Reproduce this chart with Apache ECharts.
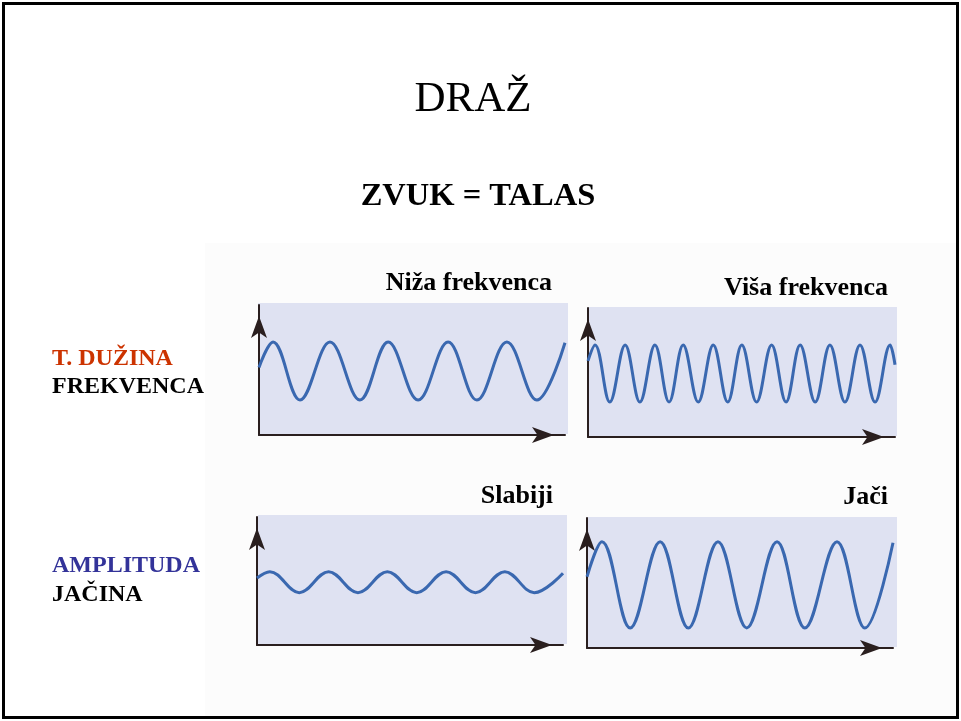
<!DOCTYPE html>
<html>
<head>
<meta charset="utf-8">
<script src="https://cdn.jsdelivr.net/npm/echarts@6/dist/echarts.min.js"></script>
<style>
html,body{margin:0;padding:0;background:#fff;}
#chart{width:961px;height:721px;}
</style>
</head>
<body>
<div id="chart"></div>
<script>
// ---- texts ----
var slideTitle = 'DRAŽ';
var slideSubtitle = 'ZVUK = TALAS';
var panelTitles = ['Niža frekvenca', 'Viša frekvenca', 'Slabiji', 'Jači'];
var rowLabels = [['T. DUŽINA', 'FREKVENCA'], ['AMPLITUDA', 'JAČINA']];

// ---- wave data (x: time, y: displacement): start, crests/troughs, end ----
var lowFreqX  = [0, 0.46, 1.34, 2.32, 3.30, 4.22, 5.20, 6.18, 7.12, 8.10, 9.08, 10.0];
var lowFreqY  = [5.2, 7.15, 2.69, 7.15, 2.69, 7.15, 2.69, 7.15, 2.69, 7.15, 2.69, 7.1];

var highFreqX = [0, 0.23, 0.71, 1.21, 1.69, 2.18, 2.64, 3.10, 3.59, 4.08, 4.55, 5.01, 5.49, 5.98, 6.45, 6.91, 7.40, 7.88, 8.37, 8.86, 9.35, 9.84, 10.0];
var highFreqY = [5.9, 7.13, 2.71, 7.13, 2.71, 7.13, 2.71, 7.13, 2.71, 7.13, 2.71, 7.13, 2.71, 7.13, 2.71, 7.13, 2.71, 7.13, 2.71, 7.13, 2.71, 7.13, 5.6];

var weakX = [0, 0.42, 1.38, 2.34, 3.30, 4.26, 5.22, 6.18, 7.14, 8.10, 9.06, 10.0];
var weakY = [5.23, 5.73, 4.09, 5.73, 4.09, 5.73, 4.09, 5.73, 4.09, 5.73, 4.09, 5.6];

var strongX = [0, 0.49, 1.41, 2.39, 3.31, 4.28, 5.22, 6.21, 7.12, 8.17, 9.08, 10.0];
var strongY = [5.48, 8.18, 1.54, 8.18, 1.54, 8.18, 1.54, 8.18, 1.54, 8.18, 1.54, 8.1];

function pairs(xs, ys) { return xs.map(function (x, i) { return [x, ys[i]]; }); }
var waves = [pairs(lowFreqX, lowFreqY), pairs(highFreqX, highFreqY), pairs(weakX, weakY), pairs(strongX, strongY)];

// ---- layout ----
var grids = [
  {left: 259, top: 305, width: 306, height: 130},
  {left: 588, top: 308, width: 307, height: 129},
  {left: 257, top: 517, width: 306, height: 128},
  {left: 587, top: 518, width: 306, height: 130}
];
var panels = [
  {x: 258, y: 303, w: 310, h: 131},
  {x: 588, y: 307, w: 309, h: 129},
  {x: 258, y: 515, w: 309, h: 129},
  {x: 587, y: 517, w: 310, h: 130}
];
var titlePos = [
  {x: 552, y: 283}, {x: 888, y: 288}, {x: 553, y: 496}, {x: 888, y: 497}
];

var axisColor = '#2a1f1f';
var waveColor = '#3a68b0';
var panelColor = '#dfe2f2';

var graphics = [
  {type: 'rect', z: -10, shape: {x: 205, y: 243, width: 752, height: 474}, style: {fill: '#fcfcfc'}},
  {type: 'rect', z: 100, shape: {x: 3.5, y: 3.5, width: 954, height: 714}, style: {fill: 'none', stroke: '#000', lineWidth: 3}},
  {type: 'text', z: 100, x: 473, y: 100, style: {text: slideTitle, font: '43px "Liberation Serif"', fill: '#000', textAlign: 'center', textVerticalAlign: 'middle'}},
  {type: 'text', z: 100, x: 478, y: 197, style: {text: slideSubtitle, font: 'bold 32.5px "Liberation Serif"', fill: '#000', textAlign: 'center', textVerticalAlign: 'middle'}},
  {type: 'text', z: 100, x: 52, y: 359, style: {text: rowLabels[0][0], font: 'bold 24px "Liberation Serif"', fill: '#cc3300', textAlign: 'left', textVerticalAlign: 'middle'}},
  {type: 'text', z: 100, x: 52, y: 387, style: {text: rowLabels[0][1], font: 'bold 24px "Liberation Serif"', fill: '#000', textAlign: 'left', textVerticalAlign: 'middle'}},
  {type: 'text', z: 100, x: 52, y: 566, style: {text: rowLabels[1][0], font: 'bold 24px "Liberation Serif"', fill: '#333399', textAlign: 'left', textVerticalAlign: 'middle'}},
  {type: 'text', z: 100, x: 52, y: 595, style: {text: rowLabels[1][1], font: 'bold 24px "Liberation Serif"', fill: '#000', textAlign: 'left', textVerticalAlign: 'middle'}}
];
panels.forEach(function (p) {
  graphics.push({type: 'rect', z: -5, shape: {x: p.x, y: p.y, width: p.w, height: p.h}, style: {fill: panelColor}});
});
titlePos.forEach(function (t, i) {
  graphics.push({type: 'text', z: 100, x: t.x, y: t.y, style: {text: panelTitles[i], font: 'bold 26px "Liberation Serif"', fill: '#000', textAlign: 'right', textVerticalAlign: 'middle'}});
});

var xAxes = [], yAxes = [], series = [];
grids.forEach(function (g, i) {
  xAxes.push({
    type: 'value', gridIndex: i, min: 0, max: 10,
    axisLine: {show: true, onZero: false, symbol: ['none', 'arrow'], symbolSize: [12, 22], symbolOffset: [0, -11], lineStyle: {color: axisColor, width: 2}},
    axisTick: {show: false}, axisLabel: {show: false}, splitLine: {show: false}
  });
  yAxes.push({
    type: 'value', gridIndex: i, min: 0, max: 10,
    axisLine: {show: true, onZero: false, symbol: ['none', 'arrow'], symbolSize: [12, 22], symbolOffset: [0, -11], lineStyle: {color: axisColor, width: 2}},
    axisTick: {show: false}, axisLabel: {show: false}, splitLine: {show: false}
  });
  series.push({
    type: 'line', xAxisIndex: i, yAxisIndex: i, data: waves[i],
    smooth: 0.38, showSymbol: false, symbol: 'none', silent: true, clip: false,
    lineStyle: {color: waveColor, width: 3}
  });
});

var chart = echarts.init(document.getElementById('chart'));
chart.setOption({
  backgroundColor: '#ffffff',
  animation: false,
  grid: grids.map(function (g) { return Object.assign({containLabel: false}, g); }),
  xAxis: xAxes,
  yAxis: yAxes,
  series: series,
  graphic: graphics
});
</script>
</body>
</html>
